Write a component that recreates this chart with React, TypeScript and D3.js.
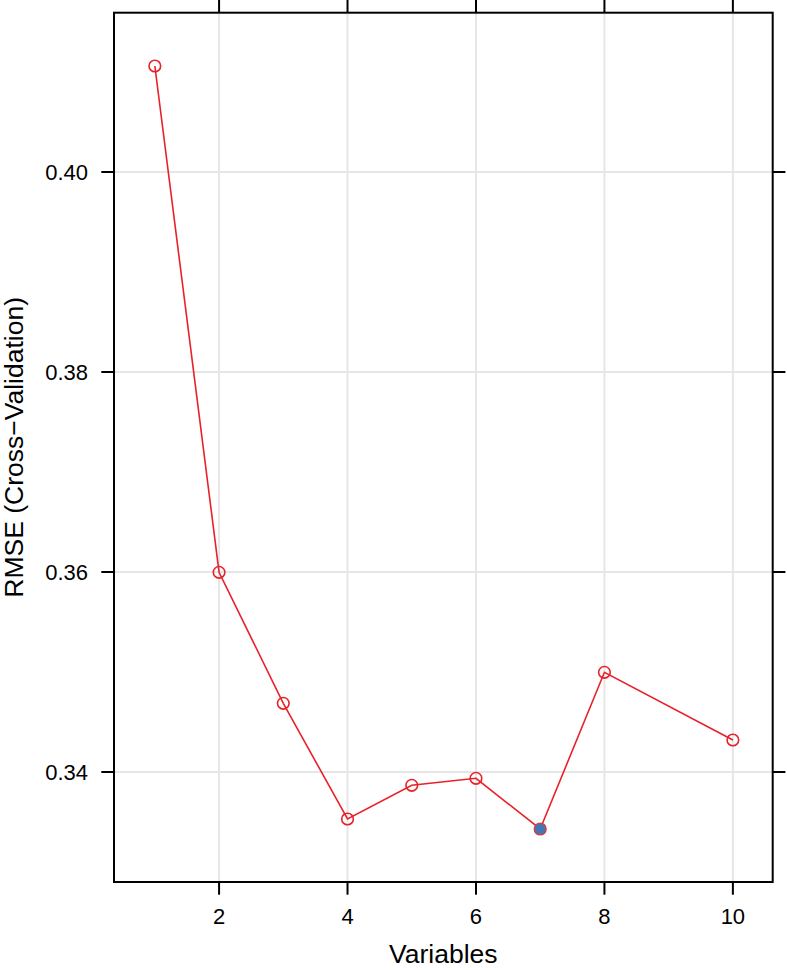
import React from "react";
import * as d3 from "d3";

const variables = [1, 2, 3, 4, 5, 6, 7, 8, 10];
const rmse = [0.4106, 0.35997, 0.34687, 0.3353, 0.33867, 0.33937, 0.3343, 0.34997, 0.3432];
const bestIndex = 6;
const xTicks = [2, 4, 6, 8, 10];
const yTicks = [0.34, 0.36, 0.38, 0.4];
const xLabel = "Variables";
const yLabel = "RMSE (Cross\u2212Validation)";

const W = 787;
const H = 970;
const left = 114;
const right = 772.7;
const top = 12.7;
const bottom = 882;

export default function App() {
  const x = d3.scaleLinear().domain([0.364, 10.62]).range([left, right]);
  const y = d3.scaleLinear().domain([0.41593, 0.329]).range([top, bottom]);
  const pts = variables.map((v, i) => [x(v), y(rmse[i])] as [number, number]);
  const line = d3.line()(pts) || "";
  const font = "Liberation Sans, Arial, Helvetica, sans-serif";
  const tickLen = 12.7;
  return (
    <svg width={W} height={H} style={{ position: "absolute", left: 0, top: 0 }} fontFamily={font}>
      <rect x={0} y={0} width={W} height={H} fill="#fff" />
      {xTicks.map((t) => (
        <line key={"gx" + t} x1={x(t)} x2={x(t)} y1={top} y2={bottom} stroke="#e6e6e6" strokeWidth={2} />
      ))}
      {yTicks.map((t) => (
        <line key={"gy" + t} x1={left} x2={right} y1={y(t)} y2={y(t)} stroke="#e6e6e6" strokeWidth={2} />
      ))}
      <path d={line} fill="none" stroke="#e8212a" strokeWidth={1.6} />
      {pts.map((p, i) =>
        i === bestIndex ? (
          <circle key={i} cx={p[0]} cy={p[1]} r={6} fill="#4575b4" stroke="#d9383a" strokeWidth={1.2} />
        ) : (
          <circle key={i} cx={p[0]} cy={p[1]} r={5.8} fill="none" stroke="#e8212a" strokeWidth={1.6} />
        )
      )}
      <rect x={left} y={top} width={right - left} height={bottom - top} fill="none" stroke="#000" strokeWidth={2} />
      {xTicks.map((t) => (
        <g key={"tx" + t}>
          <line x1={x(t)} x2={x(t)} y1={bottom} y2={bottom + tickLen} stroke="#000" strokeWidth={2} />
          <line x1={x(t)} x2={x(t)} y1={top} y2={top - tickLen} stroke="#000" strokeWidth={2} />
          <text x={x(t)} y={924} textAnchor="middle" fontSize={22}>
            {t}
          </text>
        </g>
      ))}
      {yTicks.map((t) => (
        <g key={"ty" + t}>
          <line x1={left} x2={left - tickLen} y1={y(t)} y2={y(t)} stroke="#000" strokeWidth={2} />
          <line x1={right} x2={right + tickLen} y1={y(t)} y2={y(t)} stroke="#000" strokeWidth={2} />
          <text x={88} y={y(t) + 8} textAnchor="end" fontSize={22}>
            {d3.format(".2f")(t)}
          </text>
        </g>
      ))}
      <text x={(left + right) / 2} y={963} textAnchor="middle" fontSize={26.5}>
        {xLabel}
      </text>
      <text
        transform={`translate(23,${(top + bottom) / 2}) rotate(-90)`}
        textAnchor="middle"
        fontSize={26.5}
      >
        {yLabel}
      </text>
    </svg>
  );
}
